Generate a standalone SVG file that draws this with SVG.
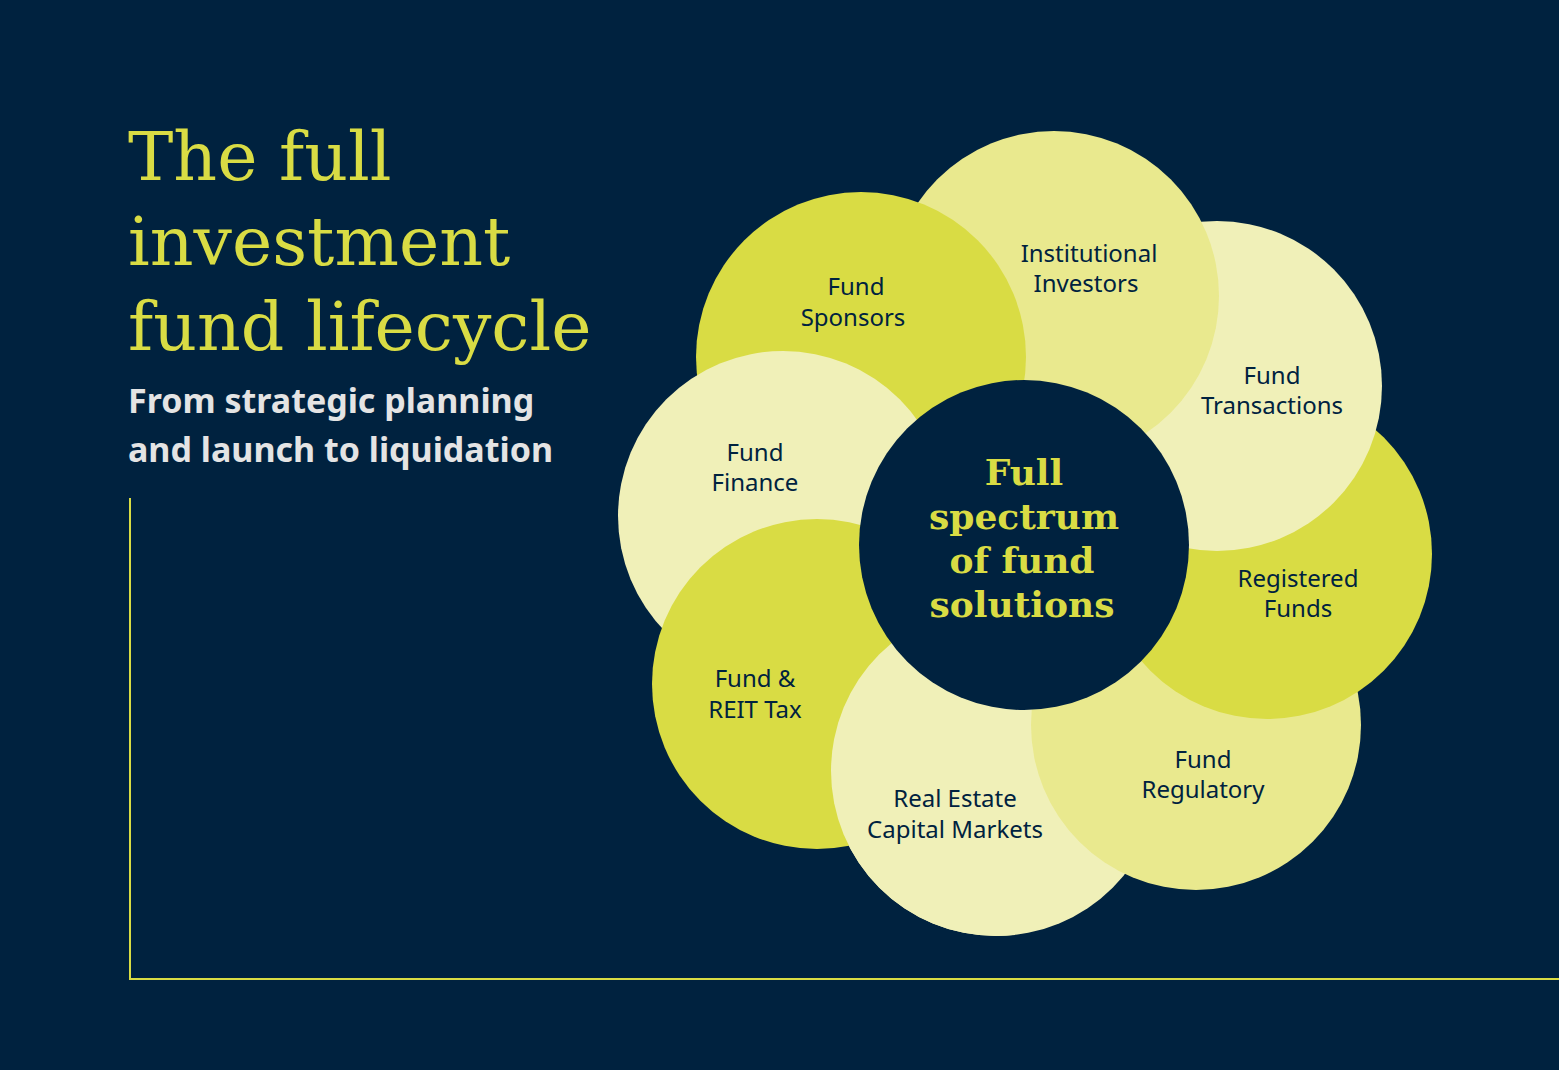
<svg xmlns="http://www.w3.org/2000/svg" width="1559" height="1070" viewBox="0 0 1559 1070">
<style>
.a{fill:#d9dc44}.b{fill:#e9e98e}.c{fill:#f0f0b8}
.l{font-family:"Noto Sans","Liberation Sans",sans-serif;font-size:24px;fill:#00223f;text-anchor:middle}
.t{font-family:"DejaVu Serif","Liberation Serif",serif;fill:#d9dc44}
</style>
<defs><clipPath id="cl"><rect x="0" y="0" width="1015" height="1070"/></clipPath></defs>
<rect width="1559" height="1070" fill="#00223f"/>
<g id="title">
<text class="t" x="128" y="180" font-size="68">The full</text>
<text class="t" x="128" y="265" font-size="68">investment</text>
<text class="t" x="128" y="350" font-size="68">fund lifecycle</text>
<text x="128" y="413" font-family="Noto Sans,sans-serif" font-weight="bold" font-size="34" fill="#e4e4e4">From strategic planning</text>
<text x="128" y="462" font-family="Noto Sans,sans-serif" font-weight="bold" font-size="34" fill="#e4e4e4">and launch to liquidation</text>
</g>
<g id="connectors"><path d="M130 498V979H1559" fill="none" stroke="#d9dc44" stroke-width="2"/></g>
<g id="realestate"><circle class="c" cx="996" cy="771" r="165"/></g>
<g id="regulatory"><circle class="b" cx="1196" cy="725" r="165"/></g>
<g id="registered"><circle class="a" cx="1267" cy="554" r="165"/></g>
<g id="transactions"><circle class="c" cx="1217" cy="386" r="165"/></g>
<g id="institutional"><circle class="b" cx="1054" cy="296" r="165"/></g>
<g id="sponsors"><circle class="a" cx="861" cy="357" r="165"/></g>
<g id="finance"><circle class="c" cx="783" cy="516" r="165"/></g>
<g id="tax"><circle class="a" cx="817" cy="684" r="165"/></g>
<g id="realestate-top"><circle class="c" cx="996" cy="771" r="165" clip-path="url(#cl)"/></g>
<g id="center"><circle cx="1024" cy="545" r="165" fill="#00223f"/>
<text class="t" font-weight="bold" font-size="36" text-anchor="middle"><tspan x="1024" y="485">Full</tspan><tspan x="1024" y="529">spectrum</tspan><tspan x="1022" y="573">of fund</tspan><tspan x="1022" y="617">solutions</tspan></text></g>
<g id="labels">
<text class="l"><tspan x="856" y="295">Fund</tspan><tspan x="853" y="326">Sponsors</tspan></text>
<text class="l"><tspan x="1089" y="262">Institutional</tspan><tspan x="1086" y="292">Investors</tspan></text>
<text class="l"><tspan x="1272" y="384">Fund</tspan><tspan x="1272" y="414">Transactions</tspan></text>
<text class="l"><tspan x="1298" y="587">Registered</tspan><tspan x="1298" y="617">Funds</tspan></text>
<text class="l"><tspan x="1203" y="768">Fund</tspan><tspan x="1203" y="798">Regulatory</tspan></text>
<text class="l"><tspan x="955" y="807">Real Estate</tspan><tspan x="955" y="838">Capital Markets</tspan></text>
<text class="l"><tspan x="755" y="687">Fund &amp;</tspan><tspan x="755" y="718">REIT Tax</tspan></text>
<text class="l"><tspan x="755" y="461">Fund</tspan><tspan x="755" y="491">Finance</tspan></text>
</g>
</svg>
